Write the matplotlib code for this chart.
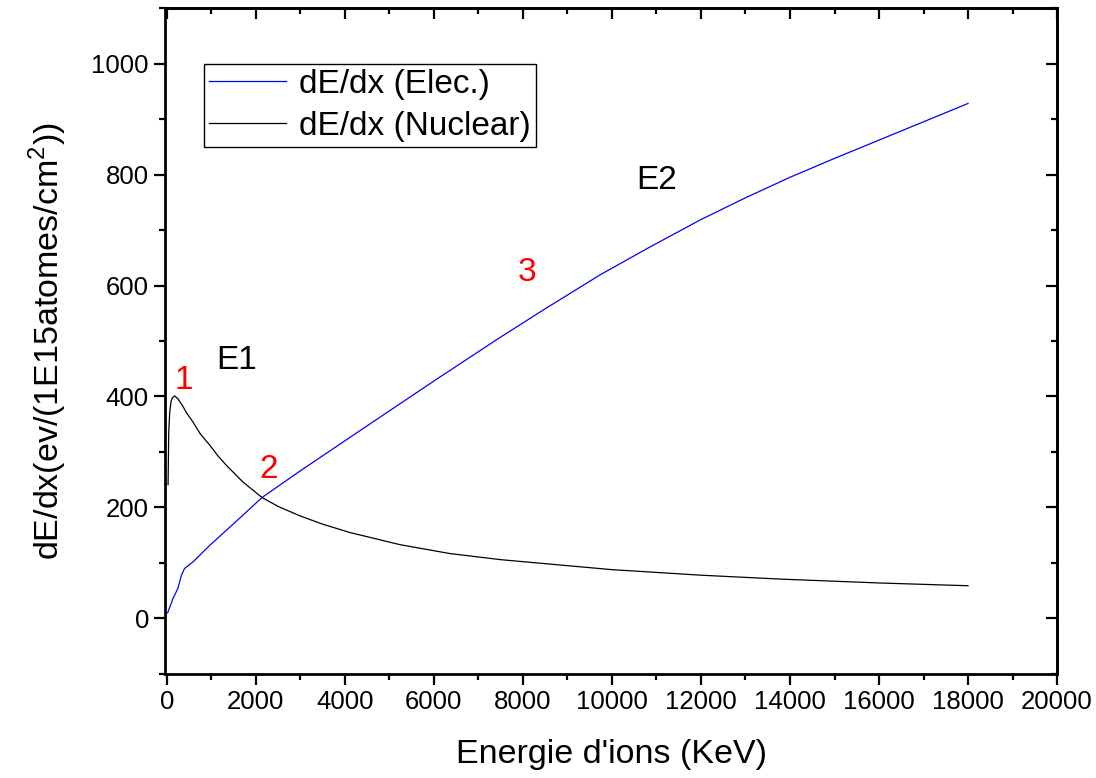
import matplotlib
matplotlib.use("Agg")
import matplotlib.pyplot as plt
from matplotlib.ticker import MultipleLocator

plt.rcParams['font.family'] = ['Liberation Sans', 'DejaVu Sans']
plt.rcParams['mathtext.fontset'] = 'custom'
plt.rcParams['mathtext.rm'] = 'Liberation Sans'

# electronic stopping (blue)
elec_x = [20, 140, 250, 330, 400, 590, 970, 1340, 1710, 2140, 3000, 4110, 5000,
          6060, 7480, 8500, 9730, 10800, 11980, 13000, 14000, 15000, 16000, 17000, 18000]
elec_y = [10, 36, 54, 78, 90, 102, 132, 159, 186, 218, 266, 326, 374,
          431, 506, 558, 619, 667, 718, 758, 795, 829, 862, 895, 928]

# nuclear stopping (black)
nuc_x = [30, 45, 67, 100, 130, 180, 250, 350, 450, 590, 750, 970, 1150, 1340, 1710,
         2140, 2500, 2990, 3500, 4110, 5240, 6360, 7500, 8610, 10000, 12000, 13780, 16000, 18000]
nuc_y = [241, 335, 372, 392, 398, 401, 396, 384, 370, 354, 333, 312, 293, 276, 246,
         218, 202, 185, 170, 155, 133, 117, 106, 98, 88, 78, 71, 64, 59]

fig = plt.figure(figsize=(10.96, 7.78), dpi=100)
ax = fig.add_axes([0.1505, 0.1337, 0.814, 0.856])

ax.plot(elec_x, elec_y, color='#0000ff', lw=0.9, label='dE/dx (Elec.)')
ax.plot(nuc_x, nuc_y, color='black', lw=0.9, label='dE/dx (Nuclear)')

ax.set_xlim(-40, 20000)
ax.set_ylim(-100, 1100)
ax.xaxis.set_major_locator(MultipleLocator(2000))
ax.xaxis.set_minor_locator(MultipleLocator(1000))
ax.yaxis.set_major_locator(MultipleLocator(200))
ax.yaxis.set_minor_locator(MultipleLocator(100))

for s in ax.spines.values():
    s.set_linewidth(2)
ax.tick_params(which='both', direction='out', width=1.6, labelsize=18.5)
ax.tick_params(which='major', length=8)
ax.tick_params(which='minor', length=4.5)

# inward ticks on top and right, no labels
top = ax.secondary_xaxis('top')
top.xaxis.set_major_locator(MultipleLocator(2000))
top.xaxis.set_minor_locator(MultipleLocator(1000))
top.tick_params(which='both', direction='in', width=1.6, labeltop=False)
top.tick_params(which='major', length=8)
top.tick_params(which='minor', length=4.5)
right = ax.secondary_yaxis('right')
right.yaxis.set_major_locator(MultipleLocator(200))
right.yaxis.set_minor_locator(MultipleLocator(100))
right.tick_params(which='both', direction='in', width=1.6, labelright=False)
right.tick_params(which='major', length=8)
right.tick_params(which='minor', length=4.5)
for sec in (top, right):
    for s in sec.spines.values():
        s.set_linewidth(2)

ax.set_xlabel("Energie d'ions (KeV)", fontsize=24.5, labelpad=18)
ax.set_ylabel("dE/dx(ev/(1E15atomes/cm$^{2}$))", fontsize=24.5, labelpad=16)

ax.text(1560, 465, 'E1', fontsize=24, ha='center', va='center')
ax.text(11000, 790, 'E2', fontsize=24, ha='center', va='center')
ax.text(380, 428, '1', fontsize=24, color='red', ha='center', va='center')
ax.text(2280, 268, '2', fontsize=24, color='red', ha='center', va='center')
ax.text(8100, 624, '3', fontsize=24, color='red', ha='center', va='center')

leg = ax.legend(loc='upper left', bbox_to_anchor=(0.044, 0.916), fontsize=24,
                frameon=True, fancybox=False, edgecolor='black', framealpha=1,
                borderpad=0.15, handlelength=2.3, handletextpad=0.4, labelspacing=0.33,
                borderaxespad=0, handleheight=0.7)
leg.get_frame().set_linewidth(1)

fig.savefig('out.png', dpi=100)
